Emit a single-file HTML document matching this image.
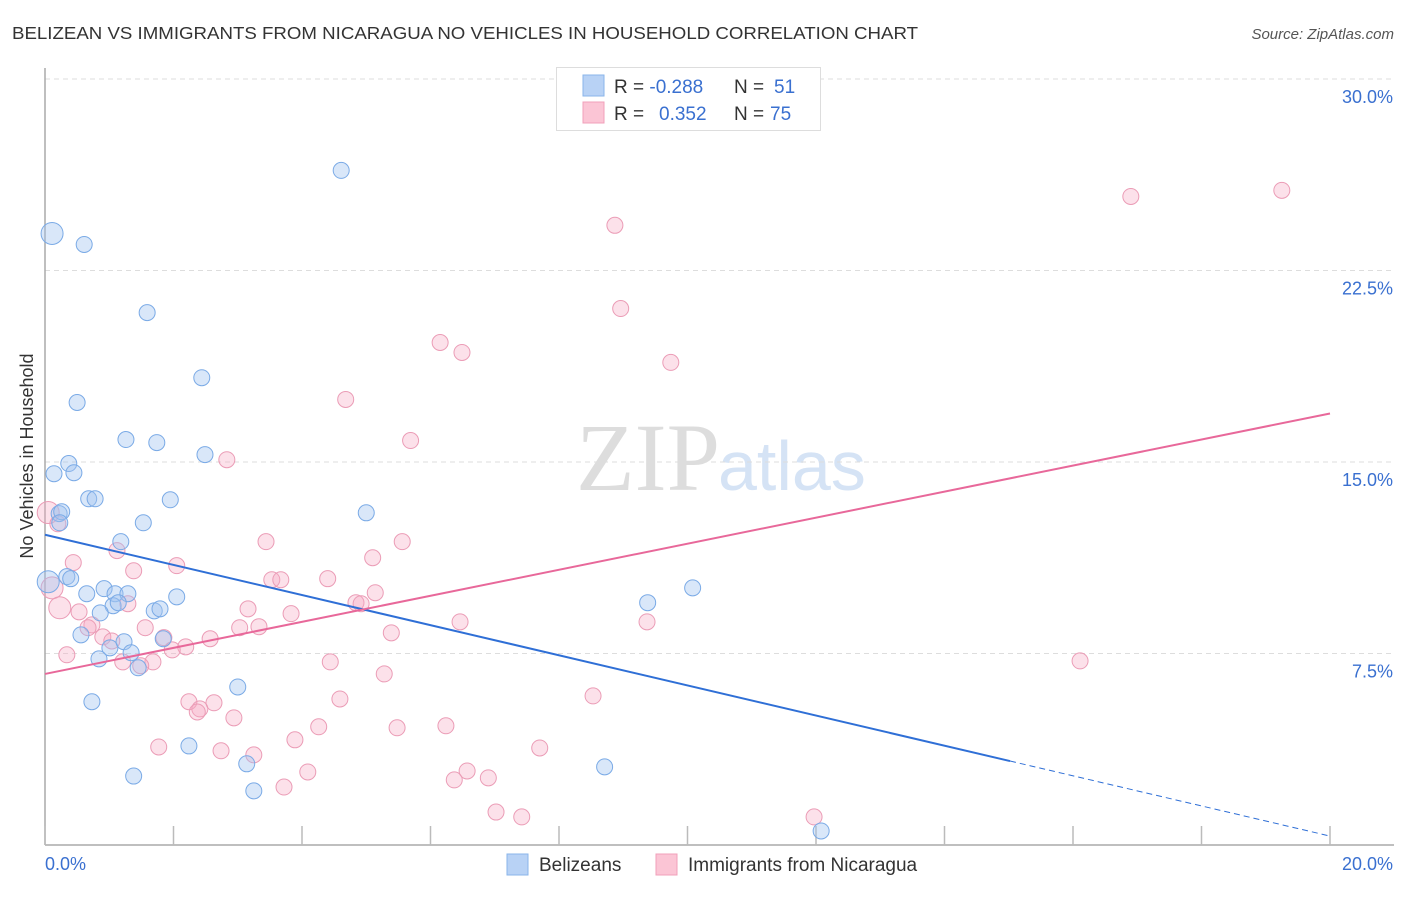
<!DOCTYPE html>
<html><head><meta charset="utf-8"><style>
body{margin:0;background:#fff;font-family:"Liberation Sans",sans-serif}
svg text{font-family:"Liberation Sans",sans-serif}
</style></head><body>
<svg id="chart" width="1406" height="892">
<text x="12" y="39" font-size="17.5" fill="#333" textLength="906" lengthAdjust="spacingAndGlyphs">BELIZEAN VS IMMIGRANTS FROM NICARAGUA NO VEHICLES IN HOUSEHOLD CORRELATION CHART</text>
<text x="1394" y="39" font-size="15" fill="#555" font-style="italic" text-anchor="end">Source: ZipAtlas.com</text>
<text transform="translate(33,456) rotate(-90)" font-size="18" fill="#333" text-anchor="middle">No Vehicles in Household</text>
<text x="720" y="490" font-size="96" fill="#ddd" text-anchor="end" style="font-family:'Liberation Serif',serif">ZIP</text>
<text x="718" y="490" font-size="70" fill="#d5e3f5">atlas</text>
<g id="grid"></g><g id="axes"></g><g id="pts"></g><g id="lines"></g>
<g>
<rect x="556.5" y="67.5" width="264" height="63" fill="#fff" stroke="#ddd"/>
<rect x="583" y="75" width="21" height="21" fill="#b8d2f5" stroke="#8ab4ea"/>
<rect x="583" y="102" width="21" height="21" fill="#fbc5d5" stroke="#f0a0ba"/>
<text x="614" y="93" font-size="19" fill="#333">R = <tspan fill="#3a70d0">-0.288</tspan><tspan x="734">N = </tspan><tspan x="774" fill="#3a70d0">51</tspan></text>
<text x="614" y="120" font-size="19" fill="#333">R = <tspan x="659" fill="#3a70d0">0.352</tspan><tspan x="734">N = </tspan><tspan x="770" fill="#3a70d0">75</tspan></text>
</g>
<g>
<rect x="507" y="854" width="21" height="21" fill="#b8d2f5" stroke="#8ab4ea"/>
<text x="539" y="871" font-size="19" fill="#333">Belizeans</text>
<rect x="656" y="854" width="21" height="21" fill="#fbc5d5" stroke="#f0a0ba"/>
<text x="688" y="871" font-size="19" fill="#333">Immigrants from Nicaragua</text>
</g>
</svg>
<script>
const xTicks=[0,2,4,6,8,10,12,14,16,18,20];
const yTicks=[7.5,15,22.5,30];
const yTickLabels=["7.5%","15.0%","22.5%","30.0%"];
const belizeX=[0.11,0.61,4.61,1.59,2.44,0.50,1.26,1.74,2.49,0.37,0.14,0.45,0.68,0.78,1.95,0.22,0.26,0.23,1.53,5.00,1.18,0.34,0.40,0.05,0.65,0.92,1.09,1.29,1.06,1.14,2.05,1.70,1.79,0.86,0.56,1.01,1.23,1.34,1.84,0.84,1.45,0.73,3.00,9.38,10.08,2.24,1.38,3.14,3.25,8.71,12.08];
const belizeY=[23.95,23.52,26.42,20.85,18.30,17.33,15.88,15.76,15.29,14.94,14.54,14.58,13.56,13.56,13.52,12.98,13.05,12.62,12.62,13.01,11.88,10.51,10.43,10.31,9.84,10.04,9.84,9.84,9.37,9.49,9.72,9.17,9.25,9.09,8.23,7.72,7.96,7.53,8.08,7.29,6.94,5.61,6.19,9.49,10.07,3.88,2.70,3.18,2.12,3.06,0.55];
const nicX=[16.90,19.25,8.87,8.96,6.15,6.49,9.74,4.68,5.69,2.83,0.05,0.20,0.44,1.12,3.44,5.56,5.10,2.05,1.38,3.53,3.67,4.40,0.11,5.14,4.84,4.92,1.29,0.23,0.53,3.16,3.83,6.46,9.37,0.73,0.67,1.56,3.03,3.33,5.39,0.90,1.04,1.85,2.57,2.19,1.98,0.34,1.21,1.68,1.49,4.44,16.11,5.28,8.53,4.59,2.24,2.63,2.41,2.37,2.94,4.26,6.24,5.48,3.89,1.77,2.74,3.25,7.70,4.09,6.57,6.90,6.37,3.72,7.02,7.42,11.97];
const nicY=[25.40,25.64,24.27,21.01,19.68,19.29,18.90,17.45,15.84,15.09,13.02,12.58,11.06,11.53,11.88,11.88,11.25,10.94,10.74,10.39,10.39,10.43,10.07,9.88,9.49,9.45,9.45,9.29,9.13,9.25,9.06,8.74,8.74,8.62,8.51,8.51,8.51,8.55,8.31,8.15,7.99,8.12,8.08,7.76,7.64,7.45,7.17,7.17,7.02,7.17,7.21,6.70,5.84,5.72,5.61,5.57,5.33,5.21,4.98,4.63,4.67,4.59,4.12,3.84,3.69,3.53,3.80,2.86,2.90,2.63,2.55,2.27,1.29,1.10,1.10];
const bigBelize=[0,23];
const bigNic=[10,22,27];
const blueTrend=[12.15,0.35]; const blueSolidEnd=15.02;
const pinkTrend=[6.70,16.90];
const NS="http://www.w3.org/2000/svg";
const X=v=>45+v/20*1285, Y=v=>845-v/30*766;
function mk(tag,attrs,parent){const e=document.createElementNS(NS,tag);for(const k in attrs)e.setAttribute(k,attrs[k]);parent.appendChild(e);return e;}
const grid=document.getElementById('grid'),axes=document.getElementById('axes'),pts=document.getElementById('pts'),lines=document.getElementById('lines');
yTicks.forEach((t,i)=>{
 const l=mk('line',{x1:45,x2:1394,y1:Y(t),y2:Y(t),stroke:'#ddd','stroke-dasharray':'5,4'},grid);
 
 
 const tx=mk('text',{x:1393,y:Y(t)+24,'font-size':18,fill:'#3a70d0','text-anchor':'end'},grid);
 tx.textContent=yTickLabels[i];
 
 
});
mk('line',{x1:45,x2:45,y1:68,y2:845,stroke:'#aaa','stroke-width':1.5},axes);
mk('line',{x1:45,x2:1394,y1:845,y2:845,stroke:'#aaa','stroke-width':1.5},axes);
xTicks.forEach(t=>{const l=mk('line',{x1:X(t),x2:X(t),y1:826,y2:845,stroke:'#bbb','stroke-width':1.5},axes);
 
 });
let a=mk('text',{x:45,y:870,'font-size':18,fill:'#3a70d0'},axes);a.textContent='0.0%';


a=mk('text',{x:1393,y:870,'font-size':18,fill:'#3a70d0','text-anchor':'end'},axes);a.textContent='20.0%';


nicX.forEach((v,i)=>{const c=mk('circle',{cx:X(v),cy:Y(nicY[i]),r:bigNic.includes(i)?11:8,fill:'rgba(245,170,195,0.35)',stroke:'#eb9cb6','stroke-width':1},pts);
 
 });
belizeX.forEach((v,i)=>{const c=mk('circle',{cx:X(v),cy:Y(belizeY[i]),r:bigBelize.includes(i)?11:8,fill:'rgba(160,195,240,0.4)',stroke:'#7aaae6','stroke-width':1},pts);
 
 });
const by=x=>blueTrend[0]+(blueTrend[1]-blueTrend[0])*x/20;
let ln=mk('line',{x1:X(0),y1:Y(by(0)),x2:X(blueSolidEnd),y2:Y(by(blueSolidEnd)),stroke:'#2f6fd6','stroke-width':2},lines);


ln=mk('line',{x1:X(blueSolidEnd),y1:Y(by(blueSolidEnd)),x2:X(20),y2:Y(by(20)),stroke:'#2f6fd6','stroke-width':1,'stroke-dasharray':'6,4'},lines);


ln=mk('line',{x1:X(0),y1:Y(pinkTrend[0]),x2:X(20),y2:Y(pinkTrend[1]),stroke:'#e8689a','stroke-width':2},lines);


</script>
</body></html>
